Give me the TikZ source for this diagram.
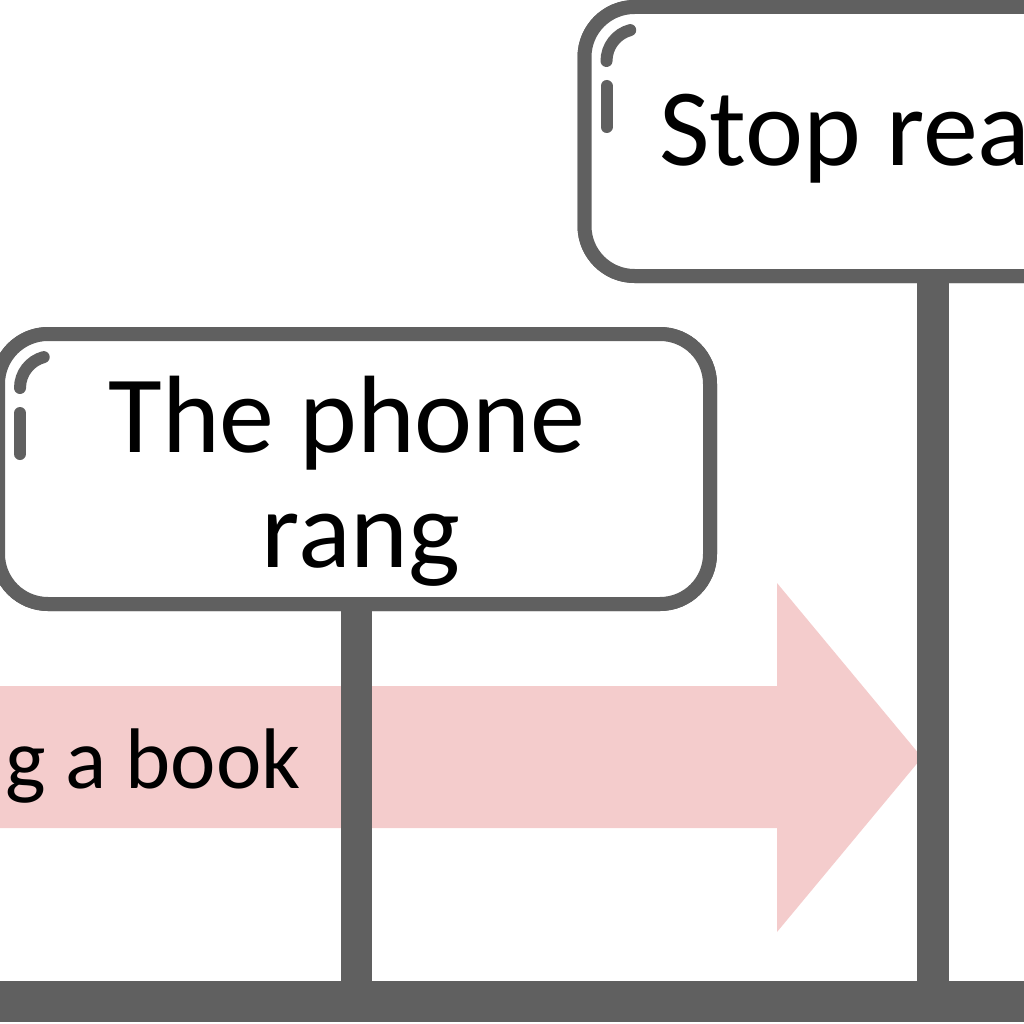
\documentclass[tikz,border=0pt]{standalone}
\usepackage{fontspec}
\setmainfont{Carlito}
\definecolor{gr}{HTML}{606060}
\definecolor{pk}{HTML}{F4CCCC}
\tikzset{
  box/.style={draw=gr, line width=14pt, fill=white, rounded corners=50pt, inner sep=0pt},
  post/.style={draw=gr, line width=31.5pt},
  hl/.style={draw=gr, line width=12pt, line cap=round},
  big/.style={inner sep=0pt, font=\fontsize{110}{115}\selectfont},
  mid/.style={inner sep=0pt, font=\fontsize{86}{100}\selectfont},
}
\begin{document}
\begin{tikzpicture}[x=1pt,y=-1pt]
\useasboundingbox (0,0) rectangle (1024,1024);
\clip (0,0) rectangle (1024,1024);
% pink arrow
\fill[pk] (0,686) -- (777,686) -- (777,583) -- (922,757.5) -- (777,932) -- (777,828) -- (0,828) -- cycle;
\node[mid, anchor=base east] (book) at (301,788) {g a book};
% bar coordinates
\coordinate (bar) at (0,1001.5);
% boxes
\node[box, minimum width=712pt, minimum height=270pt] (box1) at (354,469) {};
\node[box, minimum width=815pt, minimum height=269pt] (box2) at (992,141.5) {};
% posts
\draw[post] ([xshift=2.5pt]box1.south) -- ([xshift=2.5pt]box1.south |- bar);
\draw[post] ([xshift=355.5pt]box2.south west) -- ([xshift=355.5pt]box2.south west |- bar);
% redraw box borders over posts
\node[box, minimum width=712pt, minimum height=270pt] at (box1) {};
\node[box, minimum width=815pt, minimum height=269pt] at (box2) {};
% bottom bar
\coordinate (barR) at (1024,1001.5);
\draw[gr, line width=41pt] (bar) -- (barR);
% highlights
\draw[hl] (43.72,357.09) arc[start angle=-105, end angle=-180, radius=32];
\draw[hl] (20,413) -- (20,454);
\draw[hl] (630.22,30.09) arc[start angle=-105, end angle=-180, radius=32];
\draw[hl] (606.5,86) -- (606.5,127);
% texts
\node[big, anchor=base] (t1) at (347,452) {The phone};
\node[big, anchor=base] (t2) at (361,567) {rang};
\node[big, anchor=base west] (t3) at (659,166) {Stop rea};
\end{tikzpicture}
\end{document}
